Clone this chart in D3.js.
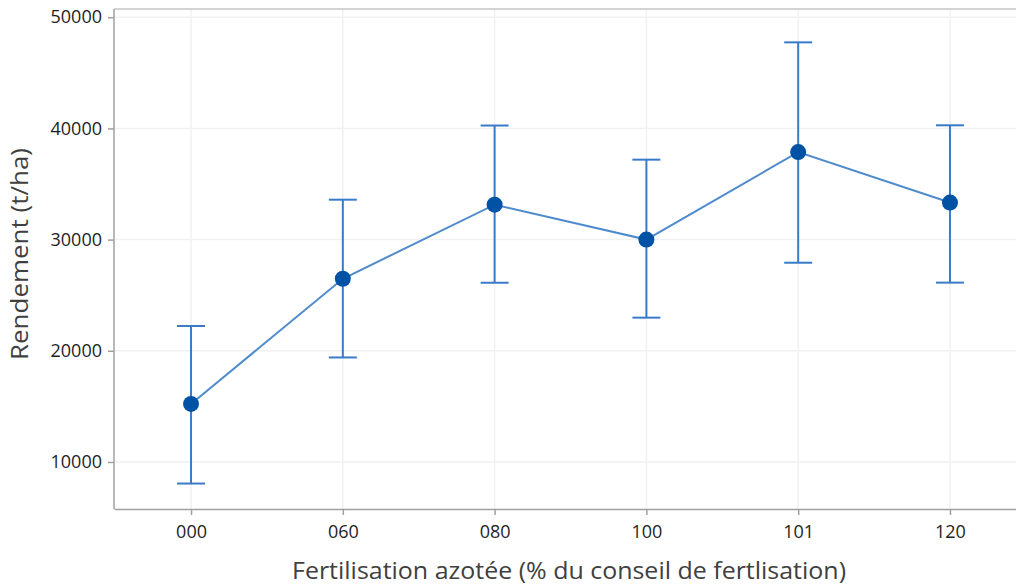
<!DOCTYPE html>
<html><head><meta charset="utf-8">
<script src="https://cdn.jsdelivr.net/npm/d3@7"></script>
<style>body{margin:0;background:#fff}svg{display:block}</style>
</head><body>
<svg id="c" width="1016" height="588"></svg>
<script>
const categories = ["000","060","080","100","101","120"];
const means = [15220, 26480, 33140, 30000, 37870, 33330];
const lower = [8060, 19400, 26120, 22980, 27920, 26130];
const upper = [22230, 33590, 40260, 37190, 47740, 40280];
const yTicks = [10000, 20000, 30000, 40000, 50000];

const svg = d3.select("#c");
const L = 114, R = 1027, T = 9, B = 509;
const x = d3.scalePoint().domain(categories).range([L, R]).padding(0.5075);
const y = d3.scaleLinear().domain([5770, 50740]).range([B, T]);
const FONT = "Open Sans, sans-serif";

// grid
svg.append("g").selectAll("line").data(yTicks).join("line")
  .attr("x1", L).attr("x2", R).attr("y1", d => y(d)).attr("y2", d => y(d))
  .attr("stroke", "#f1f1f1").attr("stroke-width", 1.5);
svg.append("g").selectAll("line").data(categories).join("line")
  .attr("y1", T).attr("y2", B).attr("x1", d => x(d)).attr("x2", d => x(d))
  .attr("stroke", "#f1f1f1").attr("stroke-width", 1.5);

// frame
svg.append("line").attr("x1", L).attr("x2", R).attr("y1", T).attr("y2", T)
  .attr("stroke", "#c4c4c4").attr("stroke-width", 1.5);

// axes
const yAxis = svg.append("g").attr("transform", `translate(${L},0)`)
  .call(d3.axisLeft(y).tickValues(yTicks).tickSize(6).tickSizeOuter(0).tickPadding(6).tickFormat(d3.format("d")));
const xAxis = svg.append("g").attr("transform", `translate(0,${B})`)
  .call(d3.axisBottom(x).tickSize(6).tickSizeOuter(0).tickPadding(10));
[yAxis, xAxis].forEach(a => {
  a.select(".domain").attr("stroke", "#a0a0a0").attr("stroke-width", 1.5);
  a.selectAll(".tick line").attr("stroke", "#a0a0a0").attr("stroke-width", 1.5);
  a.selectAll("text").attr("font-family", FONT).attr("font-size", 18).attr("fill", "#1e1e1e");
});
yAxis.select(".domain").attr("d", `M0,${B}V${T}`);

// error bars
const eb = svg.append("g").attr("stroke", "#3a7bc8").attr("stroke-width", 2).attr("fill", "none");
categories.forEach((c, i) => {
  const cx = x(c);
  eb.append("line").attr("x1", cx).attr("x2", cx).attr("y1", y(upper[i])).attr("y2", y(lower[i]));
  eb.append("line").attr("x1", cx - 14).attr("x2", cx + 14).attr("y1", y(upper[i])).attr("y2", y(upper[i]));
  eb.append("line").attr("x1", cx - 14).attr("x2", cx + 14).attr("y1", y(lower[i])).attr("y2", y(lower[i]));
});

// line
svg.append("path").datum(means)
  .attr("d", d3.line().x((d, i) => x(categories[i])).y(d => y(d)))
  .attr("fill", "none").attr("stroke", "#4f8bcc").attr("stroke-width", 2);

// points
svg.append("g").selectAll("circle").data(means).join("circle")
  .attr("cx", (d, i) => x(categories[i])).attr("cy", d => y(d)).attr("r", 8)
  .attr("fill", "#0052a5");

// titles
svg.append("text").attr("x", 569).attr("y", 579).attr("text-anchor", "middle")
  .attr("font-family", FONT).attr("font-size", 23).attr("fill", "#404040")
  .attr("textLength", 554).attr("lengthAdjust", "spacingAndGlyphs")
  .text("Fertilisation azotée (% du conseil de fertlisation)");
svg.append("text").attr("transform", "translate(28,254) rotate(-90)").attr("text-anchor", "middle")
  .attr("font-family", FONT).attr("font-size", 23).attr("fill", "#404040")
  .attr("textLength", 212).attr("lengthAdjust", "spacingAndGlyphs")
  .text("Rendement (t/ha)");
</script>
</body></html>
